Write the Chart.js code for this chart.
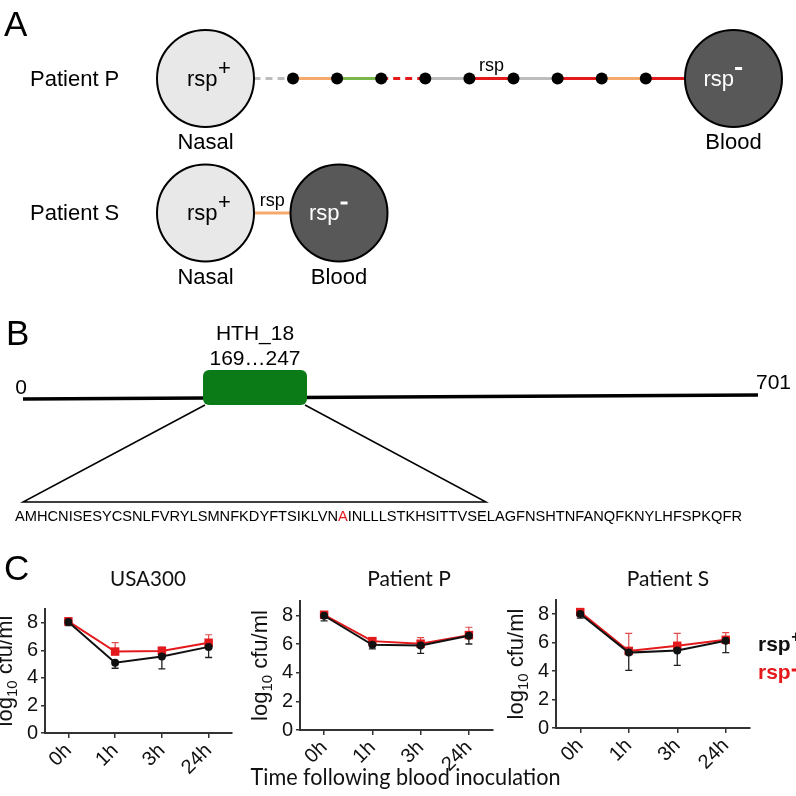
<!DOCTYPE html>
<html>
<head>
<meta charset="utf-8">
<title>rsp figure</title>
<script src="https://cdn.jsdelivr.net/npm/chart.js@4.4.1/dist/chart.umd.min.js"></script>
<style>
html,body{margin:0;padding:0;background:#ffffff;}
#fig{position:relative;width:796px;height:796px;overflow:hidden;background:#ffffff;}
#fig canvas{position:absolute;}
</style>
</head>
<body>
<div id="fig">
<canvas id="diagram"></canvas>
<canvas id="chartUSA300"></canvas>
<canvas id="chartP"></canvas>
<canvas id="chartS"></canvas>
</div>
<script>
// ================= DATA =================
const timepoints = ['0h', '1h', '3h', '24h'];
const seriesNames = ['rsp', 'rsp'];
const seriesSigns = ['+', '-'];
const panelTitles = ['USA300', 'Patient P', 'Patient S'];
const yTickValues = [0, 2, 4, 6, 8];
const yAxisMax = 9;

const usa300RspPlus = [8.05, 5.1, 5.55, 6.25];
const usa300RspPlusErr = [0.25, 0.4, 0.9, 0.77];
const usa300RspMinus = [8.1, 5.91, 5.96, 6.55];
const usa300RspMinusErr = [0.25, 0.65, 0.28, 0.58];

const patientPRspPlus = [7.97, 5.94, 5.9, 6.57];
const patientPRspPlusErr = [0.35, 0.28, 0.55, 0.57];
const patientPRspMinus = [8.04, 6.2, 6.02, 6.62];
const patientPRspMinusErr = [0.14, 0.2, 0.42, 0.55];

const patientSRspPlus = [8.02, 5.3, 5.45, 6.13];
const patientSRspPlusErr = [0.3, 1.25, 1.05, 0.83];
const patientSRspMinus = [8.15, 5.42, 5.78, 6.2];
const patientSRspMinusErr = [0.2, 1.23, 0.88, 0.5];

const xAxisTitle = 'Time following blood inoculation';
const yAxisTitleParts = ['log', '10', ' cfu/ml'];

// Panel A
const patientRows = ['Patient P', 'Patient S'];
const sampleSites = ['Nasal', 'Blood'];
const siteGenotypes = ['+', '-'];
const chainPatientP = ['grey-dash', 'orange', 'green', 'red-dash', 'grey', 'red', 'grey', 'red', 'orange', 'red'];
const chainPatientS = ['orange'];
const rspSegmentIndex = [5, 0];

// Panel B
const proteinLength = 701;
const domainName = 'HTH_18';
const domainRange = [169, 247];
const domainSequence = 'AMHCNISESYCSNLFVRYLSMNFKDYFTSIKLVNAINLLLSTKHSITTVSELAGFNSHTNFANQFKNYLHFSPKQFR';
const mutationIndex = 34;

// ================= STYLE / LAYOUT =================
const SANS = '"Liberation Sans", Arial, Helvetica, sans-serif';
const HUM = 'Lato, "Open Sans", sans-serif';
const RED = '#e3191c';
const BLACK = '#111111';

const segStyles = {
  'grey-dash': { color: '#bdbdbd', dash: [7, 5] },
  'grey': { color: '#bdbdbd', dash: [] },
  'orange': { color: '#f4aa6c', dash: [] },
  'green': { color: '#7ab84b', dash: [] },
  'red': { color: RED, dash: [] },
  'red-dash': { color: RED, dash: [7, 5] }
};

const DL = {
  rowY: [78.5, 213], nasalX: 205.5, bloodX: [733.5, 339], circleR: 48.5, nodeR: 6,
  firstNodeX: 293, nodeStep: 44.1, lineW: 3,
  nasalFill: '#e8e8e8', bloodFill: '#585858',
  prot: { x0: 23, y0: 399, x1: 758, y1: 395, w: 3.5 },
  box: { x0: 203, x1: 307, y0: 370, y1: 405, r: 6, fill: '#0b7b18' },
  seq: { x0: 15, x1: 742, y: 521, baseY: 502, baseX1: 486 }
};

// ================= PANEL A + B (diagram chart) =================
function chainPoints(row, segs) {
  const y = DL.rowY[row];
  const pts = [{ x: DL.nasalX, y }];
  for (let i = 0; i < segs.length - 1; i++) pts.push({ x: DL.firstNodeX + i * DL.nodeStep, y });
  pts.push({ x: DL.bloodX[row], y });
  return pts;
}
function chainDataset(row, segs) {
  const n = segs.length;
  const isEnd = c => c.dataIndex === 0 || c.dataIndex === n;
  return {
    data: chainPoints(row, segs), showLine: true, borderWidth: DL.lineW, clip: false,
    borderColor: segStyles[segs[0]].color,
    segment: {
      borderColor: c => segStyles[segs[c.p0DataIndex]].color,
      borderDash: c => segStyles[segs[c.p0DataIndex]].dash
    },
    pointRadius: c => isEnd(c) ? DL.circleR : DL.nodeR,
    pointBackgroundColor: c => c.dataIndex === 0 ? DL.nasalFill : (c.dataIndex === n ? DL.bloodFill : '#000'),
    pointBorderColor: '#000',
    pointBorderWidth: c => isEnd(c) ? 2 : 0
  };
}
function protX(p) { return DL.prot.x0 + p / proteinLength * (DL.prot.x1 - DL.prot.x0); }
function protY(p) { return DL.prot.y0 + p / proteinLength * (DL.prot.y1 - DL.prot.y0); }

function drawSup(ctx, base, sup, left, baseline, color, baseFont, supFont, supRise, supBar) {
  ctx.fillStyle = color;
  ctx.textAlign = 'left';
  ctx.textBaseline = 'alphabetic';
  ctx.font = baseFont;
  ctx.fillText(base, left, baseline);
  const w = ctx.measureText(base).width;
  if (sup === '-' && supBar) {
    ctx.fillRect(left + w + 1, baseline - supRise - 1.5, supBar, 3);
  } else {
    ctx.font = supFont;
    ctx.fillText(sup, left + w + 0.5, baseline - supRise);
  }
}

const diagramText = {
  id: 'diagramText',
  afterDatasetsDraw(chart) {
    const ctx = chart.ctx;
    const xs = chart.scales.x, ys = chart.scales.y;
    const X = v => xs.getPixelForValue(v), Y = v => ys.getPixelForValue(v);
    ctx.save();
    // panel letters
    ctx.fillStyle = '#000'; ctx.textBaseline = 'alphabetic'; ctx.textAlign = 'left';
    ctx.font = `35px ${SANS}`;
    ctx.fillText('A', X(4), Y(36));
    ctx.fillText('B', X(6), Y(345));
    ctx.fillText('C', X(4), Y(580));

    // Panel A rows
    patientRows.forEach((name, r) => {
      const cy = DL.rowY[r];
      ctx.fillStyle = '#000'; ctx.font = `22px ${SANS}`; ctx.textAlign = 'left';
      ctx.fillText(name, X(30), Y(cy + 7));
      drawSup(ctx, 'rsp', siteGenotypes[0], X(DL.nasalX - 18.5), Y(cy + 7), '#000', `22px ${SANS}`, `22px ${SANS}`, 11, 0);
      drawSup(ctx, 'rsp', siteGenotypes[1], X(DL.bloodX[r] - 30), Y(cy + 7), '#fff', `22px ${SANS}`, `22px ${SANS}`, 17, 7);
      ctx.fillStyle = '#000'; ctx.font = `22px ${SANS}`; ctx.textAlign = 'center';
      ctx.fillText(sampleSites[0], X(DL.nasalX), Y(cy + 70.5));
      ctx.fillText(sampleSites[1], X(DL.bloodX[r]), Y(cy + 70.5));
      const segs = r === 0 ? chainPatientP : chainPatientS;
      const pts = chainPoints(r, segs);
      const si = rspSegmentIndex[r];
      let x0 = pts[si].x, x1 = pts[si + 1].x;
      if (si === 0) x0 += DL.circleR;
      if (si + 1 === segs.length) x1 -= DL.circleR;
      ctx.font = `18px ${SANS}`;
      ctx.fillText('rsp', X((x0 + x1) / 2), Y(cy - 7.5));
    });

    // Panel B: domain box
    const b = DL.box;
    ctx.fillStyle = b.fill;
    ctx.beginPath();
    ctx.roundRect(X(b.x0), Y(b.y0), X(b.x1) - X(b.x0), Y(b.y1) - Y(b.y0), b.r);
    ctx.fill();
    ctx.strokeStyle = '#000';
    ctx.lineWidth = 1.5;
    ctx.beginPath();
    ctx.moveTo(X(b.x0 + 2), Y(b.y1));
    ctx.lineTo(X(DL.prot.x0), Y(DL.seq.baseY));
    ctx.lineTo(X(DL.seq.baseX1), Y(DL.seq.baseY));
    ctx.lineTo(X(b.x1 - 2), Y(b.y1));
    ctx.stroke();
    ctx.fillStyle = '#000'; ctx.font = `21px ${SANS}`; ctx.textAlign = 'center';
    const bc = (b.x0 + b.x1) / 2;
    ctx.fillText(domainName, X(bc), Y(340));
    ctx.fillText(domainRange[0] + '\u2026' + domainRange[1], X(bc), Y(365));
    ctx.fillText('0', X(protX(0) - 2), Y(394));
    ctx.textAlign = 'left';
    ctx.fillText(String(proteinLength), X(protX(proteinLength) - 2), Y(389));
    ctx.font = `14px ${SANS}`;
    const full = ctx.measureText(domainSequence).width;
    const sx = (DL.seq.x1 - DL.seq.x0) / full;
    ctx.save();
    ctx.translate(X(DL.seq.x0), Y(DL.seq.y));
    ctx.scale(sx, 1);
    const pre = domainSequence.slice(0, mutationIndex);
    const mut = domainSequence[mutationIndex];
    const post = domainSequence.slice(mutationIndex + 1);
    ctx.fillStyle = '#000'; ctx.fillText(pre, 0, 0);
    let w = ctx.measureText(pre).width;
    ctx.fillStyle = RED; ctx.fillText(mut, w, 0);
    w += ctx.measureText(mut).width;
    ctx.fillStyle = '#000'; ctx.fillText(post, w, 0);
    ctx.restore();
    ctx.restore();
  }
};

const diagCanvas = document.getElementById('diagram');
diagCanvas.width = 796; diagCanvas.height = 796;
diagCanvas.style.left = '0px'; diagCanvas.style.top = '0px';
new Chart(diagCanvas, {
  type: 'scatter',
  data: {
    datasets: [
      chainDataset(0, chainPatientP),
      chainDataset(1, chainPatientS),
      {
        data: [0, proteinLength].map(p => ({ x: protX(p), y: protY(p) })),
        showLine: true, borderColor: '#000', borderWidth: DL.prot.w, pointRadius: 0, clip: false
      }
    ]
  },
  options: {
    responsive: false, animation: false, events: [],
    layout: { padding: 0, autoPadding: false },
    plugins: { legend: { display: false }, tooltip: { enabled: false } },
    scales: {
      x: { type: 'linear', min: 0, max: 796, display: false },
      y: { type: 'linear', min: 0, max: 796, reverse: true, display: false }
    }
  },
  plugins: [diagramText]
});

// ================= PANEL C (line charts) =================
const TITLE_BASELINE = 586;

function makeLineChart(id, g, title, plus, plusErr, minus, minusErr, extra) {
  const cv = document.getElementById(id);
  cv.width = g.w; cv.height = g.h;
  cv.style.left = g.left + 'px'; cv.style.top = g.top + 'px';

  const errorBars = {
    id: 'errorBars',
    beforeDatasetsDraw(chart) {
      const ctx = chart.ctx, ys = chart.scales.y;
      for (let di = chart.data.datasets.length - 1; di >= 0; di--) {
        const ds = chart.data.datasets[di];
        const meta = chart.getDatasetMeta(di);
        ctx.save();
        ctx.strokeStyle = ds.errColor; ctx.lineWidth = ds.errWidth;
        meta.data.forEach((pt, i) => {
          const v = ds.data[i];
          const end = ys.getPixelForValue(v + ds.errDir * ds.err[i]);
          ctx.beginPath();
          ctx.moveTo(pt.x, ys.getPixelForValue(v));
          ctx.lineTo(pt.x, end);
          ctx.moveTo(pt.x - 3.5, end);
          ctx.lineTo(pt.x + 3.5, end);
          ctx.stroke();
        });
        ctx.restore();
      }
    }
  };

  const labels = {
    id: 'labelsC',
    afterDraw(chart) {
      const ctx = chart.ctx, a = chart.chartArea;
      ctx.save();
      ctx.fillStyle = BLACK; ctx.textAlign = 'center'; ctx.textBaseline = 'alphabetic';
      ctx.font = `21px ${HUM}`;
      ctx.fillText(title, g.titleX - g.left, TITLE_BASELINE - g.top, g.titleW);
      ctx.save();
      ctx.translate(a.left - 33, (a.top + a.bottom) / 2);
      ctx.rotate(-Math.PI / 2);
      const fBig = `22px ${SANS}`, fSub = `15px ${SANS}`;
      ctx.font = fBig; const w0 = ctx.measureText(yAxisTitleParts[0]).width;
      ctx.font = fSub; const w1 = ctx.measureText(yAxisTitleParts[1]).width;
      ctx.font = fBig; const w2 = ctx.measureText(yAxisTitleParts[2]).width;
      let x = -(w0 + w1 + w2) / 2;
      ctx.textAlign = 'left';
      ctx.font = fBig; ctx.fillText(yAxisTitleParts[0], x, 0); x += w0;
      ctx.font = fSub; ctx.fillText(yAxisTitleParts[1], x, 5); x += w1;
      ctx.font = fBig; ctx.fillText(yAxisTitleParts[2], x, 0);
      ctx.restore();
      if (extra && extra.xTitle) {
        ctx.font = `23px ${HUM}`; ctx.textAlign = 'center'; ctx.fillStyle = BLACK;
        ctx.fillText(xAxisTitle, extra.xTitle.x - g.left, extra.xTitle.y - g.top, extra.xTitle.w);
      }
      if (extra && extra.legend) {
        const lg = extra.legend;
        const colors = [BLACK, RED];
        seriesNames.forEach((nm, i) => {
          drawSup(ctx, nm, seriesSigns[i], lg.x - g.left, lg.y[i] - g.top, colors[i],
            `bold 21px ${SANS}`, `bold 16px ${SANS}`, 9, 7);
        });
      }
      ctx.restore();
    }
  };

  return new Chart(cv, {
    type: 'line',
    data: {
      labels: timepoints,
      datasets: [
        {
          label: seriesNames[0] + seriesSigns[0], data: plus, err: plusErr, errDir: -1,
          errColor: '#222222', errWidth: 1.3,
          borderColor: BLACK, backgroundColor: BLACK, borderWidth: 2, tension: 0,
          pointStyle: 'circle', pointRadius: 4, pointBackgroundColor: BLACK, pointBorderWidth: 0
        },
        {
          label: seriesNames[1] + seriesSigns[1], data: minus, err: minusErr, errDir: 1,
          errColor: '#e24a4a', errWidth: 1.2,
          borderColor: RED, backgroundColor: RED, borderWidth: 2, tension: 0,
          pointStyle: 'rect', pointRadius: 6, pointBackgroundColor: RED, pointBorderWidth: 0
        }
      ]
    },
    options: {
      responsive: false, animation: false, events: [],
      layout: { padding: { top: g.padTop, right: g.padRight, left: 0, bottom: 0 }, autoPadding: false },
      plugins: { legend: { display: false }, title: { display: false }, tooltip: { enabled: false } },
      scales: {
        x: {
          offset: true,
          grid: { display: true, drawOnChartArea: false, drawTicks: true, tickLength: 5, color: '#333', lineWidth: 1.5 },
          border: { display: true, color: '#333', width: 2 },
          ticks: { minRotation: 45, maxRotation: 45, autoSkip: false, padding: 1, color: BLACK, font: { family: SANS, size: 20 } },
          afterFit: s => { s.height = g.axisH; }
        },
        y: {
          min: 0, max: yAxisMax,
          afterBuildTicks: s => { s.ticks = yTickValues.map(v => ({ value: v })); },
          grid: { display: true, drawOnChartArea: false, drawTicks: true, tickLength: 4, color: '#333', lineWidth: 1.5 },
          border: { display: true, color: '#333', width: 2 },
          ticks: { padding: 3, color: BLACK, font: { family: SANS, size: 20 } },
          afterFit: s => { s.width = g.axisW; }
        }
      }
    },
    plugins: [errorBars, labels]
  });
}

makeLineChart('chartUSA300',
  { left: -15, top: 540, w: 271, h: 256, axisW: 60, axisH: 63, padTop: 69, padRight: 24, titleX: 148, titleW: 76 },
  panelTitles[0], usa300RspPlus, usa300RspPlusErr, usa300RspMinus, usa300RspMinusErr, null);

makeLineChart('chartP',
  { left: 240, top: 540, w: 330, h: 256, axisW: 60, axisH: 66, padTop: 61, padRight: 77, titleX: 409, titleW: 86 },
  panelTitles[1], patientPRspPlus, patientPRspPlusErr, patientPRspMinus, patientPRspMinusErr,
  { xTitle: { x: 405.5, y: 785, w: 310 } });

makeLineChart('chartS',
  { left: 496, top: 540, w: 300, h: 256, axisW: 60, axisH: 68, padTop: 60, padRight: 46, titleX: 668, titleW: 84 },
  panelTitles[2], patientSRspPlus, patientSRspPlusErr, patientSRspMinus, patientSRspMinusErr,
  { legend: { x: 758, y: [651, 679] } });
</script>
</body>
</html>
